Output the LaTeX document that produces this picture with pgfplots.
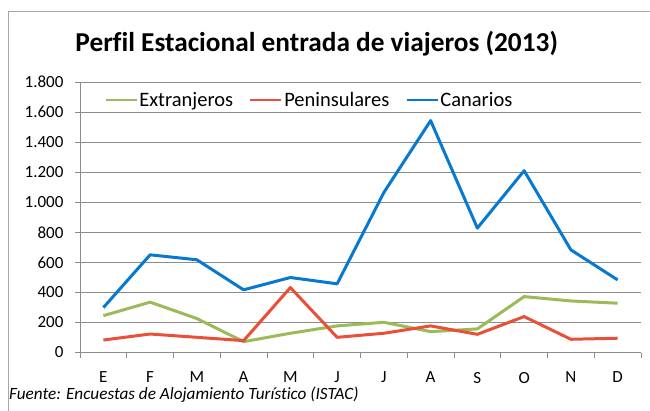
\documentclass[border=0pt]{standalone}
\usepackage{pgfplots}
\pgfplotsset{compat=1.18}
\usepackage{fontspec}
\setmainfont{Carlito}[Ligatures=NoCommon]
\definecolor{cgreen}{HTML}{9BBB59}
\definecolor{cred}{HTML}{E8503A}
\definecolor{cblue}{HTML}{0779D1}
\definecolor{cgrid}{HTML}{8C8C8C}
\definecolor{cframe}{HTML}{A6A6A6}
\begin{document}
\begin{tikzpicture}[x=1pt,y=1pt]
\useasboundingbox (0,0) rectangle (650,410);
\draw[color=cframe, line width=1pt] (8,-5) -- (8,398) -- (655,398);
\node[font=\fontsize{27.3}{30}\selectfont\bfseries, inner sep=0] at (316.7,366) {Perfil Estacional entrada de viajeros (2013)};
\node[anchor=west, font=\fontsize{17.2}{19}\selectfont\itshape, inner sep=0] at (9,15) {Fuente: Encuestas de Alojamiento Turístico (ISTAC)};
\begin{axis}[
  at={(80pt,57.5pt)}, anchor=south west, scale only axis,
  width=561pt, height=270.5pt,
  xmin=-0.5, xmax=11.5, ymin=0, ymax=1800,
  axis x line*=bottom, axis y line*=left,
  axis line style={-, draw=cgrid, line width=0.9pt},
  xtick={-0.5,0.5,...,11.5}, xticklabels={},
  extra x ticks={0,...,11},
  extra x tick labels={E,F,M,A,M,J,J,A,S,O,N,D},
  extra x tick style={major tick length=0pt, grid=none,
    xticklabel style={yshift=-16pt}},
  ytick={0,200,...,1800},
  tick align=outside, major tick length=5pt,
  tick style={draw=cgrid, line width=0.9pt},
  ymajorgrids, grid style={draw=cgrid, line width=0.9pt},
  /pgf/number format/assume math mode=true,
  /pgf/number format/1000 sep={.},
  ticklabel style={font=\fontsize{17}{20}\selectfont, text=black},
  yticklabel style={xshift=-8pt},
  legend columns=3,
  legend style={at={(0.041,0.933)}, anchor=west, draw=none, fill=white,
    font=\fontsize{20.5}{24}\selectfont, inner sep=1pt,
    nodes={inner xsep=0.5pt, inner ysep=2pt},
    /tikz/every odd column/.append style={column sep=1pt},
    /tikz/every even column/.append style={column sep=15.5pt}},
  legend image code/.code={\draw[#1, line width=2.6pt] (0pt,0pt) -- (31pt,0pt);},
  every axis plot/.append style={line width=3pt, line join=round},
]
\addplot[cgreen] coordinates {(0,245) (1,335) (2,226) (3,72) (4,128) (5,177) (6,201) (7,139) (8,157) (9,372) (10,343) (11,328)};
\addlegendentry{Extranjeros}
\addplot[cred] coordinates {(0,83) (1,123) (2,101) (3,79) (4,432) (5,101) (6,128) (7,177) (8,121) (9,239) (10,88) (11,95)};
\addlegendentry{Peninsulares}
\addplot[cblue] coordinates {(0,299) (1,650) (2,617) (3,417) (4,499) (5,457) (6,1065) (7,1543) (8,828) (9,1210) (10,683) (11,483)};
\addlegendentry{Canarios}
\end{axis}
\end{tikzpicture}
\end{document}
